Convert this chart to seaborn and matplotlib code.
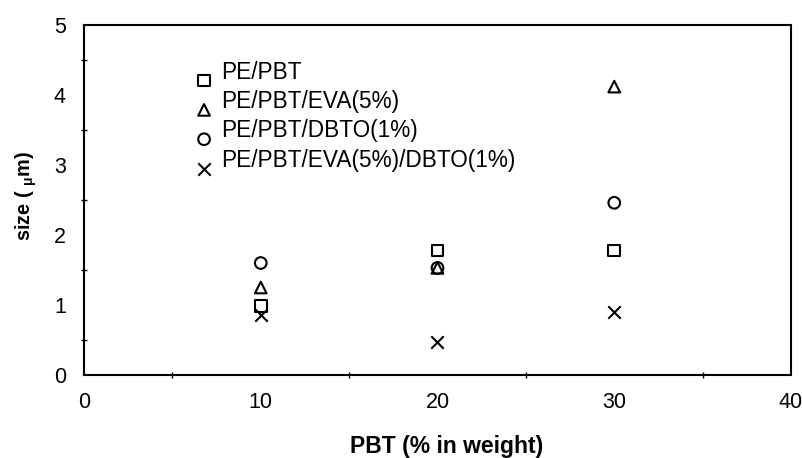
import matplotlib
matplotlib.use("Agg")
import matplotlib.pyplot as plt
import seaborn as sns
import pandas as pd
from matplotlib.ticker import MultipleLocator

# ---- data ----
pbt = [10, 20, 30]
pe_pbt = [0.99, 1.78, 1.78]
pe_pbt_eva = [1.25, 1.53, 4.12]
pe_pbt_dbto = [1.60, 1.53, 2.46]
pe_pbt_eva_dbto = [0.86, 0.47, 0.90]
series_names = ["PE/PBT", "PE/PBT/EVA(5%)", "PE/PBT/DBTO(1%)", "PE/PBT/EVA(5%)/DBTO(1%)"]
x_label = "PBT (% in weight)"
y_label = r"size ( $_{\mathbf{\mu}}$m)"
x_ticks = [0, 10, 20, 30, 40]
y_ticks = [0, 1, 2, 3, 4, 5]

sns.set_theme(style="white")
plt.rcParams["font.family"] = ["Liberation Sans", "DejaVu Sans"]
plt.rcParams["mathtext.fontset"] = "custom"
plt.rcParams["mathtext.rm"] = "Liberation Sans"
plt.rcParams["mathtext.bf"] = "Liberation Sans:bold"
plt.rcParams["mathtext.it"] = "Liberation Sans:italic"

df = pd.DataFrame({
    "x": pbt * 4,
    "y": pe_pbt + pe_pbt_eva + pe_pbt_dbto + pe_pbt_eva_dbto,
    "series": [n for n in series_names for _ in pbt],
})

fig = plt.figure(figsize=(8.03, 4.58), dpi=100)
ax = fig.add_axes([84 / 803, 1 - 375 / 458, (791 - 84) / 803, (375 - 25) / 458])

styles = {
    "PE/PBT": dict(marker="s", s=70),
    "PE/PBT/EVA(5%)": dict(marker="^", s=70),
    "PE/PBT/DBTO(1%)": dict(marker="o", s=70),
    "PE/PBT/EVA(5%)/DBTO(1%)": dict(marker="x", s=80),
}
for name in series_names:
    sub = df[df["series"] == name]
    st = styles[name]
    if st["marker"] == "x":
        sns.scatterplot(data=sub, x="x", y="y", ax=ax, marker="x", s=st["s"],
                        color="black", linewidth=1.5, label=name, zorder=3)
    else:
        sns.scatterplot(data=sub, x="x", y="y", ax=ax, marker=st["marker"], s=st["s"],
                        facecolor="none", edgecolor="black", linewidth=1.5,
                        label=name, zorder=3)

ax.set_xlim(0, 40)
ax.set_ylim(0, 5)
ax.set_xticks(x_ticks)
ax.set_yticks(y_ticks)
ax.xaxis.set_minor_locator(MultipleLocator(5))
ax.yaxis.set_minor_locator(MultipleLocator(0.5))
ax.tick_params(axis="x", which="major", direction="inout", length=8, width=1, color="black",
               labelsize=15.5, labelcolor="black", pad=8)
ax.tick_params(axis="x", which="minor", direction="inout", length=5, width=1, color="black", bottom=True)
ax.tick_params(axis="y", which="major", direction="out", length=5, width=1, color="black",
               labelsize=15.5, labelcolor="black", pad=8)
ax.tick_params(axis="y", which="minor", direction="inout", length=5, width=1, color="black", left=True)

for sp in ax.spines.values():
    sp.set_visible(True)
    sp.set_color("black")
    sp.set_linewidth(1.5)

ax.set_xlabel(x_label, fontsize=16.5, fontweight="bold", color="black", va="center")
ax.xaxis.set_label_coords(0.513, -0.203)
ax.set_ylabel(y_label, fontsize=14.3, fontweight="bold", color="black")
ax.yaxis.set_label_coords(-0.0636, 0.511)

leg = ax.legend(loc="upper left", bbox_to_anchor=(0.141, 0.924), frameon=False,
                fontsize=16.3, labelspacing=0.28, handletextpad=0.25, handlelength=1.0,
                borderaxespad=0, scatteryoffsets=[-0.12])
for t in leg.get_texts():
    t.set_color("black")

fig.savefig("out.png", dpi=100)
